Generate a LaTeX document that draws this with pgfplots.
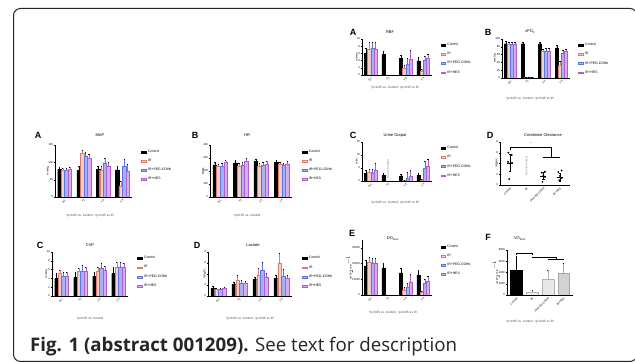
\documentclass[border=0pt]{standalone}
\usepackage{fontspec}
\setmainfont{Liberation Sans}
\newfontfamily\capfont{Open Sans}
\usepackage{pgfplots}
\pgfplotsset{compat=1.18}
\definecolor{irD}{HTML}{E07B70}
\definecolor{irF}{HTML}{F5CFCA}
\definecolor{pegD}{HTML}{5F74E2}
\definecolor{pegF}{HTML}{A6B2F2}
\definecolor{hesD}{HTML}{B05CD2}
\definecolor{hesF}{HTML}{D9ADEC}
\newcommand{\tf}{\fontsize{2.8}{3.2}\selectfont}
\newcommand{\lf}{\fontsize{3.4}{3.8}\selectfont}
\pgfplotsset{
 gp/.style={scale only axis, axis x line*=bottom, axis y line*=left, ymin=0,
   axis line style={line width=0.35pt,-}, tick style={line width=0.3pt,black},
   major tick length=1.2pt, tick align=outside,
   tick label style={font=\tf}, /pgf/number format/assume math mode=true,
   yticklabel style={inner sep=0.6pt,/pgf/number format/1000 sep={}},
   scaled y ticks=false,
   label style={font=\tf}, ylabel style={yshift=-5pt},
   error bars/y dir=plus, error bars/y explicit,
   error bars/error bar style={line width=0.25pt},
   error bars/error mark options={rotate=90,mark size=0.6pt,line width=0.25pt}},
 gbar/.style={gp, ybar=0pt, bar width=0.18, xmin=-0.5, xmax=3.5,
   xtick={0,1,2,3}, xticklabels={BL,T1,T2,T3},
   xticklabel style={rotate=45,anchor=north east,inner sep=0.6pt},
   legend style={at={(1.12,0.95)},anchor=north west,draw=none,fill=none,font=\lf,
     inner sep=0pt,row sep=1.3pt,cells={anchor=west}},
   legend image code/.code={\draw[#1] (0pt,-0.9pt) rectangle (4.5pt,0.9pt);}},
 ctrl/.style={fill=black,draw=black,line width=0.3pt},
 irs/.style={fill=irF,draw=irD,line width=0.3pt},
 pegs/.style={fill=pegF,draw=pegD,line width=0.3pt},
 hess/.style={fill=hesF,draw=hesD,line width=0.3pt},
}
\begin{document}
\begin{tikzpicture}[x=1pt,y=1pt]
\useasboundingbox (0,0) rectangle (635,363);
\fill[white] (0,0) rectangle (635,363);
\draw[line width=1pt,rounded corners=7pt,black!85] (13.5,1.5) rectangle (637,354.5);

% ---------- MAP ----------
\begin{axis}[gbar, at={(55pt,166pt)}, width=77pt, height=52pt, ymax=150, ytick={0,50,100,150}, ylabel={mmHg}]
\addplot[ctrl] coordinates {(0,80)+-(0,6) (1,76)+-(0,12) (2,80)+-(0,8) (3,78)+-(0,10)};
\addplot[irs] coordinates {(0,78)+-(0,6) (1,126)+-(0,10) (2,78)+-(0,12) (3,32)+-(0,14)};
\addplot[pegs] coordinates {(0,76)+-(0,6) (1,119)+-(0,10) (2,99)+-(0,14) (3,90)+-(0,18)};
\addplot[hess] coordinates {(0,80)+-(0,6) (1,112)+-(0,12) (2,88)+-(0,12) (3,74)+-(0,20)};
\legend{Control,IR,IR+PEG-COHb,IR+HES}
\end{axis}

% ---------- HR ----------
\begin{axis}[gbar, at={(210pt,166pt)}, width=82pt, height=52pt, ymax=400, ytick={0,100,200,300,400}, ylabel={BPM}]
\addplot[ctrl] coordinates {(0,247)+-(0,20) (1,260)+-(0,20) (2,273)+-(0,18) (3,265)+-(0,20)};
\addplot[irs] coordinates {(0,234)+-(0,15) (1,234)+-(0,25) (2,234)+-(0,25) (3,252)+-(0,20)};
\addplot[pegs] coordinates {(0,240)+-(0,18) (1,247)+-(0,25) (2,247)+-(0,20) (3,242)+-(0,22)};
\addplot[hess] coordinates {(0,265)+-(0,15) (1,273)+-(0,25) (2,252)+-(0,25) (3,255)+-(0,18)};
\legend{Control,IR,IR+PEG-COHb,IR+HES}
\end{axis}

% ---------- CVP ----------
\begin{axis}[gbar, at={(52pt,67pt)}, width=76pt, height=44pt, ymax=10, ytick={0,2,4,6,8,10}, ylabel={mmHg}]
\addplot[ctrl] coordinates {(0,4.0)+-(0,1.2) (1,4.2)+-(0,1.3) (2,4.5)+-(0,1.0) (3,5.1)+-(0,1.4)};
\addplot[irs] coordinates {(0,5.1)+-(0,0.8) (1,5.6)+-(0,0.8) (2,5.6)+-(0,0.9) (3,6.6)+-(0,1.2)};
\addplot[pegs] coordinates {(0,4.5)+-(0,1.0) (1,5.6)+-(0,1.5) (2,6.4)+-(0,1.0) (3,6.6)+-(0,1.0)};
\addplot[hess] coordinates {(0,4.5)+-(0,1.0) (1,5.6)+-(0,1.0) (2,5.9)+-(0,0.9) (3,6.6)+-(0,0.8)};
\legend{Control,IR,IR+PEG-COHb,IR+HES}
\end{axis}

% ---------- Lactate ----------
\begin{axis}[gbar, at={(208pt,67pt)}, width=84pt, height=44pt, ymax=8, ytick={0,2,4,6,8}, ylabel={mmol/L}]
\addplot[ctrl] coordinates {(0,1.4)+-(0,0.4) (1,2.1)+-(0,0.5) (2,3.0)+-(0,0.5) (3,3.2)+-(0,0.6)};
\addplot[irs] coordinates {(0,1.2)+-(0,0.2) (1,2.9)+-(0,0.9) (2,3.8)+-(0,1.2) (3,6.0)+-(0,1.8)};
\addplot[pegs] coordinates {(0,1.2)+-(0,0.3) (1,2.4)+-(0,0.5) (2,4.7)+-(0,1.4) (3,3.6)+-(0,1.2)};
\addplot[hess] coordinates {(0,1.4)+-(0,0.3) (1,2.3)+-(0,0.4) (2,3.5)+-(0,0.6) (3,3.2)+-(0,0.6)};
\legend{Control,IR,IR+PEG-COHb,IR+HES}
\end{axis}

% ---------- RBF ----------
\begin{axis}[gbar, at={(362pt,288pt)}, width=70pt, height=36pt, ymax=10, ytick={0,2,4,6,8,10}, ylabel={ml/min}]
\addplot[ctrl] coordinates {(0,6.1)+-(0,1.5) (1,5.8)+-(0,0.8) (2,4.7)+-(0,0.8) (3,3.9)+-(0,1.2)};
\addplot[irs] coordinates {(0,7.2)+-(0,2.0) (1,0)+-(0,0) (2,1.9)+-(0,0.8) (3,1.1)+-(0,0.5)};
\addplot[pegs] coordinates {(0,7.5)+-(0,1.5) (1,0)+-(0,0) (2,3.1)+-(0,1.5) (3,4.2)+-(0,1.0)};
\addplot[hess] coordinates {(0,7.2)+-(0,1.8) (1,0)+-(0,0) (2,4.4)+-(0,2.5) (3,4.7)+-(0,1.2)};
\legend{Control,IR,IR+PEG-COHb,IR+HES}
\end{axis}

% ---------- vPO2 ----------
\begin{axis}[gbar, at={(502pt,285pt)}, width=68pt, height=39pt, ymax=100, ytick={0,20,40,60,80,100}, ylabel={mmHg}]
\addplot[ctrl] coordinates {(0,88)+-(0,6) (1,88)+-(0,5) (2,88)+-(0,5) (3,77)+-(0,8)};
\addplot[irs] coordinates {(0,86)+-(0,5) (1,1.5)+-(0,1) (2,68)+-(0,6) (3,33)+-(0,10)};
\addplot[pegs] coordinates {(0,86)+-(0,5) (1,1.5)+-(0,1) (2,70)+-(0,6) (3,63)+-(0,8)};
\addplot[hess] coordinates {(0,86)+-(0,5) (1,1.5)+-(0,1) (2,70)+-(0,6) (3,68)+-(0,6)};
\legend{Control,IR,IR+PEG-COHb,IR+HES}
\end{axis}

% ---------- Urine output ----------
\begin{axis}[gbar, at={(362pt,182pt)}, width=70pt, height=39pt, ymax=15, ytick={0,5,10,15}, ylabel={ml/h}]
\addplot[ctrl] coordinates {(0,3.0)+-(0,1.2) (1,2.2)+-(0,0.8) (2,2.0)+-(0,0.8) (3,2.2)+-(0,1.0)};
\addplot[irs] coordinates {(0,3.3)+-(0,1.2) (1,0)+-(0,0) (2,0.2)+-(0,0.2) (3,0.4)+-(0,0.4)};
\addplot[pegs] coordinates {(0,3.2)+-(0,1.5) (1,0)+-(0,0) (2,1.0)+-(0,2.5) (3,4.8)+-(0,3.0)};
\addplot[hess] coordinates {(0,4.0)+-(0,3.0) (1,0)+-(0,0) (2,2.0)+-(0,2.0) (3,5.8)+-(0,2.5)};
\legend{Control,IR,IR+PEG-COHb,IR+HES}
\node[rotate=90,font=\tf,gray] at (axis cs:1,4.5) {No urine output};
\end{axis}

% ---------- DO2ren ----------
\begin{axis}[gbar, at={(362pt,68pt)}, width=70pt, height=55pt, ymax=35000, ytick={0,10000,20000,30000}, ylabel={ml O$_2$ min$^{-1}$}]
\addplot[ctrl] coordinates {(0,18500)+-(0,4000) (1,17200)+-(0,3000) (2,14000)+-(0,3000) (3,12700)+-(0,3000)};
\addplot[irs] coordinates {(0,21000)+-(0,3000) (1,0)+-(0,0) (2,3200)+-(0,1500) (3,1900)+-(0,800)};
\addplot[pegs] coordinates {(0,20500)+-(0,3000) (1,0)+-(0,0) (2,5100)+-(0,2500) (3,7600)+-(0,2500)};
\addplot[hess] coordinates {(0,20500)+-(0,3000) (1,0)+-(0,0) (2,8300)+-(0,5000) (3,8900)+-(0,3000)};
\legend{Control,IR,IR+PEG-COHb,IR+HES}
\end{axis}

% ---------- Creatinine clearance ----------
\begin{axis}[gp, at={(500pt,178pt)}, width=70pt, height=43pt, ymax=8, ytick={0,2,4,6,8},
  xmin=-0.6, xmax=3.6, xtick={0,1,2,3}, xticklabels={Control,IR,IR+PEG-COHb,IR+HES},
  xticklabel style={rotate=45,anchor=north east,inner sep=0.6pt}, ylabel={ml/min}]
\addplot[only marks, mark=*, mark size=0.7pt, black] coordinates {(-0.1,6.0) (0.1,5.6) (-0.12,4.3) (0.12,4.1) (0,4.0) (-0.05,1.1)};
\addplot[only marks, mark=*, mark size=0.7pt, black] coordinates {(2.1,2.5) (1.9,2.3) (2,1.8) (2.1,1.5) (1.95,0.6)};
\addplot[only marks, mark=*, mark size=0.7pt, black] coordinates {(3.1,2.7) (2.9,2.4) (3,1.7) (3.1,1.3) (2.95,0.9)};
\addplot[only marks, mark=-, mark size=3pt, black, line width=0.3pt, error bars/y dir=both,
  error bars/error mark options={rotate=90,mark size=1.2pt,line width=0.25pt}]
  coordinates {(0,4.1)+-(0,1.6) (2,1.7)+-(0,0.7) (3,1.5)+-(0,0.7)};
\draw[line width=0.4pt] (axis cs:0,6.5) -- (axis cs:0,7.1) -- (axis cs:2.5,7.1) -- (axis cs:2.5,5.2);
\draw[line width=0.4pt] (axis cs:2,5.2) -- (axis cs:3,5.2);
\node[font=\tf] at (axis cs:1.25,7.7) {*};
\node[rotate=90,font=\tf,gray] at (axis cs:1,3.5) {No urine output};
\end{axis}

% ---------- VO2ren ----------
\begin{axis}[gp, ybar=0pt, bar width=0.75, at={(507pt,68pt)}, width=66pt, height=45pt, ymax=8000, ytick={0,2000,4000,6000,8000},
  xmin=-0.6, xmax=3.6, xtick={0,1,2,3}, xticklabels={Control,IR,IR+PEG-COHb,IR+HES},
  xticklabel style={rotate=45,anchor=north east,inner sep=0.6pt}, ylabel={ml O$_2$ min$^{-1}$}]
\addplot[bar shift=0pt, fill=black, draw=black, line width=0.3pt] coordinates {(0,4400)+-(0,2500)};
\addplot[bar shift=0pt, fill=gray!10, draw=gray!60, line width=0.3pt] coordinates {(1,500)+-(0,300)};
\addplot[bar shift=0pt, fill=gray!18, draw=gray!60, line width=0.3pt] coordinates {(2,2800)+-(0,1600)};
\addplot[bar shift=0pt, fill=gray!35, draw=gray!70, line width=0.3pt] coordinates {(3,3900)+-(0,1700)};
\draw[line width=0.35pt] (axis cs:0,7100) -- (axis cs:0,7400) -- (axis cs:1,7400) -- (axis cs:1,7100);
\draw[line width=0.35pt] (axis cs:1,6500) -- (axis cs:1,6800) -- (axis cs:2.5,6800) -- (axis cs:2.5,6400);
\draw[line width=0.35pt] (axis cs:2,6400) -- (axis cs:3,6400);
\end{axis}

% ---------- titles, panel letters, footnotes ----------
\begin{scope}[every node/.style={font=\fontsize{4}{4.5}\selectfont}]
\node at (100,228) {MAP};
\node at (247,228) {HR};
\node at (90,118) {CVP};
\node at (253,118) {Lactate};
\node at (390,331) {RBF};
\node at (530,331) {vPO\textsubscript{2}};
\node at (395,228) {Urine Output};
\node at (543,228) {Creatinine Clearance};
\node at (393,124) {DO\textsubscript{2ren}};
\node at (520,124) {VO\textsubscript{2ren}};
\end{scope}
\begin{scope}[every node/.style={font=\fontsize{9}{10}\selectfont\bfseries}]
\node at (38,228) {A};
\node at (195,228) {B};
\node at (40,118) {C};
\node at (197,118) {D};
\node at (353,331) {A};
\node at (488,331) {B};
\node at (353,228) {C};
\node at (490,228) {D};
\node at (352,130) {E};
\node at (488,126) {F};
\end{scope}
\begin{scope}[every node/.style={font=\fontsize{3.1}{3.5}\selectfont, text=black!75}]
\node at (90,147) {*p<0.05 vs. Control, +p<0.05 vs IR};
\node at (247,147) {*p<0.05 vs. Control};
\node at (90,44) {*p<0.05 vs. Control};
\node at (250,44) {*p<0.05 vs. Control, +p<0.05 vs IR};
\node at (395,275) {*p<0.05 vs. Control, +p<0.05 vs IR};
\node at (530,264) {*p<0.05 vs. Control, +p<0.05 vs IR};
\node at (395,160) {*p<0.05 vs. Control, +p<0.05 vs IR};
\node at (393,50) {*p<0.05 vs. Control, +p<0.05 vs IR};
\node at (530,41) {*p<0.05 vs. Control, +p<0.05 vs IR};
\end{scope}

% ---------- caption ----------
\node[anchor=base west, inner sep=0pt, font=\capfont\fontsize{18.7}{21}\selectfont, text=black!85] at (30,11)
  {\textbf{Fig. 1 (abstract 001209).} See text for description};
\end{tikzpicture}
\end{document}
